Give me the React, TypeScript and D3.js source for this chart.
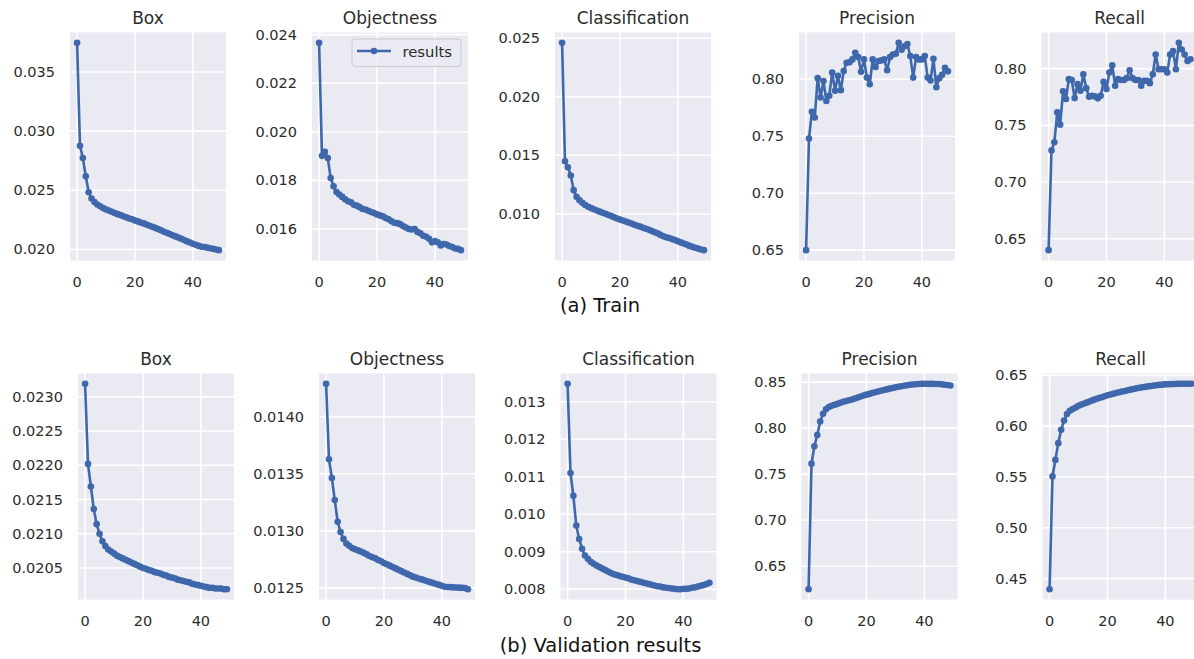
import React from "react";
import * as d3 from "d3";

// epochs 0..49
const epochs = d3.range(50);

const trainBox = [0.03746, 0.02876, 0.02772, 0.02618, 0.02483, 0.0243, 0.024, 0.0238, 0.02365, 0.0235,
  0.02338, 0.02328, 0.02318, 0.02308, 0.02298, 0.0229, 0.0228, 0.02272, 0.02262, 0.02255,
  0.02245, 0.02237, 0.02228, 0.0222, 0.0221, 0.022, 0.02192, 0.02182, 0.02172, 0.02162,
  0.0215, 0.0214, 0.0213, 0.0212, 0.0211, 0.021, 0.0209, 0.0208, 0.02068, 0.02058,
  0.02048, 0.0204, 0.0203, 0.02022, 0.0202, 0.02015, 0.0201, 0.02005, 0.02, 0.01994];

const trainObj = [0.02366, 0.01901, 0.01918, 0.01892, 0.0181, 0.01776, 0.01752, 0.01742, 0.01732, 0.01722,
  0.01714, 0.0171, 0.017, 0.01696, 0.0169, 0.01682, 0.0168, 0.01675, 0.0167, 0.01666,
  0.0166, 0.01656, 0.01652, 0.01645, 0.0164, 0.01632, 0.01626, 0.01624, 0.0162, 0.01612,
  0.01606, 0.016, 0.01598, 0.016, 0.01588, 0.01582, 0.01572, 0.01568, 0.0156, 0.01545,
  0.0155, 0.01545, 0.01532, 0.01538, 0.01536, 0.0153, 0.01526, 0.0152, 0.01518, 0.01513];

const trainCls = [0.02458, 0.01449, 0.01398, 0.01328, 0.01203, 0.01146, 0.01118, 0.01096, 0.01076, 0.01062,
  0.0105, 0.0104, 0.0103, 0.0102, 0.0101, 0.01002, 0.00992, 0.00982, 0.00972, 0.00962,
  0.00952, 0.00944, 0.00936, 0.00928, 0.00918, 0.00908, 0.009, 0.00892, 0.00882, 0.00874,
  0.00865, 0.00855, 0.00845, 0.00835, 0.00822, 0.0081, 0.00802, 0.00795, 0.00786, 0.00778,
  0.00768, 0.00758, 0.00748, 0.0074, 0.00728, 0.0072, 0.00712, 0.00705, 0.00698, 0.00692];

const trainPrec = [0.65, 0.748, 0.7715, 0.7665, 0.801, 0.784, 0.7985, 0.781, 0.7855, 0.806,
  0.79, 0.803, 0.7905, 0.8073, 0.8146, 0.815, 0.8175, 0.8233, 0.8195, 0.8067,
  0.8175, 0.8015, 0.7956, 0.8175, 0.8108, 0.816, 0.8166, 0.8175, 0.8079, 0.8195,
  0.8218, 0.8224, 0.832, 0.826, 0.829, 0.831, 0.8204, 0.8015, 0.8195, 0.8175,
  0.8175, 0.8204, 0.8015, 0.799, 0.818, 0.793, 0.801, 0.804, 0.81, 0.807];

const trainRec = [0.64, 0.7279, 0.7351, 0.7614, 0.7506, 0.78, 0.7732, 0.7907, 0.79, 0.774,
  0.7863, 0.7805, 0.795, 0.7828, 0.7752, 0.776, 0.7755, 0.7738, 0.776, 0.7883,
  0.782, 0.7965, 0.803, 0.7849, 0.7907, 0.79, 0.79, 0.7916, 0.7985, 0.7916,
  0.79, 0.79, 0.7849, 0.7892, 0.7892, 0.7872, 0.795, 0.8125, 0.7994, 0.7994,
  0.7994, 0.7965, 0.8125, 0.8154, 0.7994, 0.8227, 0.8169, 0.8125, 0.8067, 0.8082];

const valBox = [0.02319, 0.02202, 0.02169, 0.02136, 0.02114, 0.021, 0.02089, 0.02082, 0.02077, 0.02074,
  0.02071, 0.02068, 0.02066, 0.02064, 0.02062, 0.0206, 0.02058, 0.02056, 0.02054, 0.02052,
  0.0205, 0.02049, 0.02047, 0.02046, 0.02044, 0.02043, 0.02042, 0.0204, 0.02039, 0.02037,
  0.02036, 0.02035, 0.02033, 0.02032, 0.02031, 0.0203, 0.02029, 0.02027, 0.02026, 0.02025,
  0.02024, 0.02023, 0.02022, 0.02021, 0.02021, 0.0202, 0.0202, 0.0202, 0.02019, 0.02019];

const valObj = [0.014287, 0.013626, 0.013463, 0.01327, 0.01308, 0.01299, 0.01293, 0.01289, 0.01287, 0.01285,
  0.01284, 0.01283, 0.01282, 0.012808, 0.012795, 0.01278, 0.01277, 0.01276, 0.012745, 0.012735,
  0.01272, 0.012708, 0.012696, 0.012684, 0.012672, 0.01266, 0.012648, 0.012636, 0.012624, 0.012612,
  0.0126, 0.012592, 0.012584, 0.012576, 0.012568, 0.01256, 0.012552, 0.012544, 0.012536, 0.012528,
  0.01252, 0.012512, 0.01251, 0.012508, 0.012506, 0.012505, 0.012504, 0.012502, 0.0125, 0.01249];

const valCls = [0.01348, 0.0111, 0.01049, 0.0097, 0.00934, 0.00908, 0.0089, 0.00881, 0.00873, 0.00868,
  0.00863, 0.00859, 0.00855, 0.00851, 0.00847, 0.00843, 0.0084, 0.00838, 0.00835, 0.00833,
  0.00831, 0.00829, 0.00826, 0.00824, 0.00822, 0.0082, 0.00818, 0.00816, 0.00814, 0.00812,
  0.0081, 0.00808, 0.00807, 0.00805, 0.00804, 0.00803, 0.00802, 0.00801, 0.008, 0.008,
  0.00801, 0.00801, 0.00802, 0.00804, 0.00805, 0.00807, 0.00809, 0.00811, 0.00814, 0.00817];

const valPrec = [0.625, 0.7614, 0.7804, 0.7925, 0.8071, 0.8157, 0.8204, 0.8229, 0.8243, 0.8254,
  0.8264, 0.8275, 0.8286, 0.8295, 0.8303, 0.8311, 0.8322, 0.8333, 0.8343, 0.8354,
  0.8364, 0.8372, 0.8381, 0.839, 0.8398, 0.8407, 0.8414, 0.8421, 0.8429, 0.8436,
  0.8443, 0.8449, 0.8455, 0.846, 0.8466, 0.8471, 0.8474, 0.8477, 0.8479, 0.8481,
  0.8482, 0.8482, 0.8481, 0.8481, 0.848, 0.8479, 0.8476, 0.8472, 0.8468, 0.8464];

const valRec = [0.4396, 0.5506, 0.5668, 0.5833, 0.5964, 0.6055, 0.612, 0.6152, 0.6168, 0.6184,
  0.62, 0.6212, 0.6223, 0.6234, 0.6245, 0.6256, 0.6266, 0.6276, 0.6285, 0.6295,
  0.6304, 0.6311, 0.6318, 0.6326, 0.6333, 0.634, 0.6346, 0.6353, 0.6359, 0.6366,
  0.6372, 0.6377, 0.6382, 0.6386, 0.6391, 0.6395, 0.6399, 0.6403, 0.6406, 0.6409,
  0.6411, 0.6413, 0.6414, 0.6415, 0.6416, 0.6417, 0.6417, 0.6417, 0.6417, 0.6417];

const titles = ["Box", "Objectness", "Classification", "Precision", "Recall"];
const xTicks = [0, 20, 40];

const trainTicks = [
  [0.02, 0.025, 0.03, 0.035],
  [0.016, 0.018, 0.02, 0.022, 0.024],
  [0.01, 0.015, 0.02, 0.025],
  [0.65, 0.7, 0.75, 0.8],
  [0.65, 0.7, 0.75, 0.8],
];
const valTicks = [
  [0.0205, 0.021, 0.0215, 0.022, 0.0225, 0.023],
  [0.0125, 0.013, 0.0135, 0.014],
  [0.008, 0.009, 0.01, 0.011, 0.012, 0.013],
  [0.65, 0.7, 0.75, 0.8, 0.85],
  [0.45, 0.5, 0.55, 0.6, 0.65],
];
const trainFmt = [".3f", ".3f", ".3f", ".2f", ".2f"];
const valFmt = [".4f", ".4f", ".3f", ".2f", ".2f"];

const trainSeries = [trainBox, trainObj, trainCls, trainPrec, trainRec];
const valSeries = [valBox, valObj, valCls, valPrec, valRec];

const BLUE = "#3f67ac";
const TXT = "#2b2b2b";
const FONT = "DejaVu Sans, sans-serif";

type PanelProps = {
  title: string;
  values: number[];
  ticks: number[];
  fmt: string;
  left: number;
  top: number;
  width: number;
  height: number;
  legend?: boolean;
};

function Panel({ title, values, ticks, fmt, left, top, width, height, legend }: PanelProps) {
  const x = d3.scaleLinear().domain([-2.45, 51.45]).range([left, left + width]);
  const [lo, hi] = d3.extent(values) as [number, number];
  const pad = (hi - lo) * 0.05;
  const y = d3.scaleLinear().domain([lo - pad, hi + pad]).range([top + height, top]);
  const line = d3.line<number>().x((_, i) => x(epochs[i])).y((d) => y(d));
  const f = d3.format(fmt);
  return (
    <g>
      <rect x={left} y={top} width={width} height={height} fill="#eaeaf2" />
      {ticks.map((t) => (
        <line key={"gy" + t} x1={left} x2={left + width} y1={y(t)} y2={y(t)} stroke="#fff" strokeWidth={1.6} />
      ))}
      {xTicks.map((t) => (
        <line key={"gx" + t} x1={x(t)} x2={x(t)} y1={top} y2={top + height} stroke="#fff" strokeWidth={1.6} />
      ))}
      <path d={line(values) || ""} fill="none" stroke={BLUE} strokeWidth={2.6} strokeLinejoin="round" />
      {values.map((v, i) => (
        <circle key={i} cx={x(epochs[i])} cy={y(v)} r={3.3} fill={BLUE} />
      ))}
      {ticks.map((t) => (
        <text key={"ty" + t} x={left - 15} y={y(t)} textAnchor="end" dominantBaseline="central"
          fontFamily={FONT} fontSize={14.5} fill={TXT}>{f(t)}</text>
      ))}
      {xTicks.map((t) => (
        <text key={"tx" + t} x={x(t)} y={top + height + 21} textAnchor="middle" dominantBaseline="central"
          fontFamily={FONT} fontSize={14.5} fill={TXT}>{t}</text>
      ))}
      <text x={left + width / 2} y={top - 9} textAnchor="middle" fontFamily={FONT} fontSize={17} fill={TXT}>
        {title}
      </text>
      {legend && (
        <g>
          <rect x={left + 40} y={top + 6.5} width={109} height={27.5} rx={3} fill="#eaeaf2" fillOpacity={0.8}
            stroke="#cccccc" strokeWidth={1} />
          <line x1={left + 45} x2={left + 79} y1={top + 18.5} y2={top + 18.5} stroke={BLUE} strokeWidth={2.6} />
          <circle cx={left + 62} cy={top + 18.5} r={3.3} fill={BLUE} />
          <text x={left + 90.5} y={top + 24.5} fontFamily={FONT} fontSize={14.8} fill={TXT}>results</text>
        </g>
      )}
    </g>
  );
}

const trainLefts = [70, 312, 555, 799, 1041.5];
const valLefts = [78, 319, 560.5, 801.5, 1042.5];

export default function App() {
  return (
    <div style={{ position: "absolute", left: 0, top: 0 }}>
      <svg width={1194} height={659} style={{ display: "block", background: "#fff" }}>
        {titles.map((t, i) => (
          <Panel key={"tr" + t} title={t} values={trainSeries[i]} ticks={trainTicks[i]} fmt={trainFmt[i]}
            left={trainLefts[i]} top={32.5} width={156} height={228} legend={i === 1} />
        ))}
        {titles.map((t, i) => (
          <Panel key={"va" + t} title={t} values={valSeries[i]} ticks={valTicks[i]} fmt={valFmt[i]}
            left={valLefts[i]} top={373.5} width={156} height={226} />
        ))}
        <text x={600} y={312} textAnchor="middle" fontFamily={FONT} fontSize={19.5} fill="#111">(a) Train</text>
        <text x={600.5} y={652} textAnchor="middle" fontFamily={FONT} fontSize={19.5} fill="#111">(b) Validation results</text>
      </svg>
    </div>
  );
}
